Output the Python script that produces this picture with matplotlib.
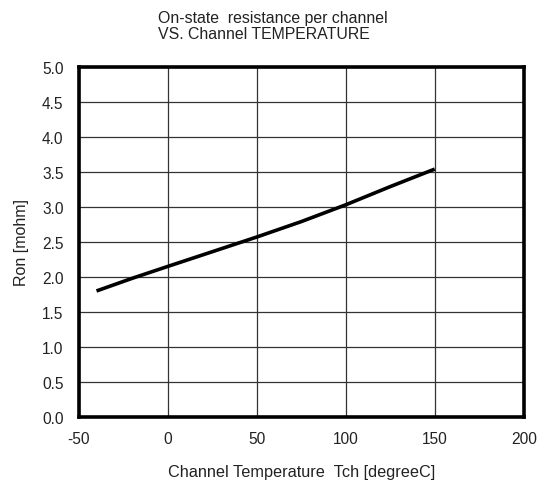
import numpy as np
import matplotlib
matplotlib.use("Agg")
from matplotlib import pyplot as plt

plt.rcParams['font.family'] = ['Liberation Sans', 'DejaVu Sans']
plt.rcParams['axes.unicode_minus'] = False

# data
temp = [-40, -20, 0, 25, 50, 75, 100, 125, 150]
ron = [1.80, 1.98, 2.15, 2.36, 2.57, 2.79, 3.03, 3.29, 3.54]
xticks = [-50, 0, 50, 100, 150, 200]
yticks = [0.0, 0.5, 1.0, 1.5, 2.0, 2.5, 3.0, 3.5, 4.0, 4.5, 5.0]

fig = plt.figure(figsize=(5.44, 4.89), dpi=100)
ax = fig.add_axes([0.1447, 0.1452, 0.818, 0.716])

ax.plot(temp, ron, color='black', linewidth=2.6, solid_capstyle='butt', zorder=3)

ax.set_xlim(-50, 200)
ax.set_ylim(0, 5)
ax.set_xticks(xticks)
ax.set_yticks(yticks)
ax.set_yticklabels(["%.1f" % v for v in yticks])
ax.tick_params(axis='x', length=0, labelsize=11.2, pad=10, colors='#222222')
ax.tick_params(axis='y', length=0, labelsize=11.2, pad=11, colors='#222222')
ax.grid(color='#333333', linewidth=0.9)
for s in ax.spines.values():
    s.set_linewidth(2.6)
    s.set_color('black')

fig.text(0.29, 0.978, "On-state  resistance per channel\nVS. Channel TEMPERATURE",
         ha='left', va='top', fontsize=11.4, linespacing=1.1, color='#222222')
ax.set_xlabel("Channel Temperature  Tch [degreeC]", fontsize=11.7, labelpad=13, color='#222222')
ax.set_ylabel("Ron [mohm]", fontsize=11.5, labelpad=9, color='#222222')

fig.savefig("out.png", dpi=100)
